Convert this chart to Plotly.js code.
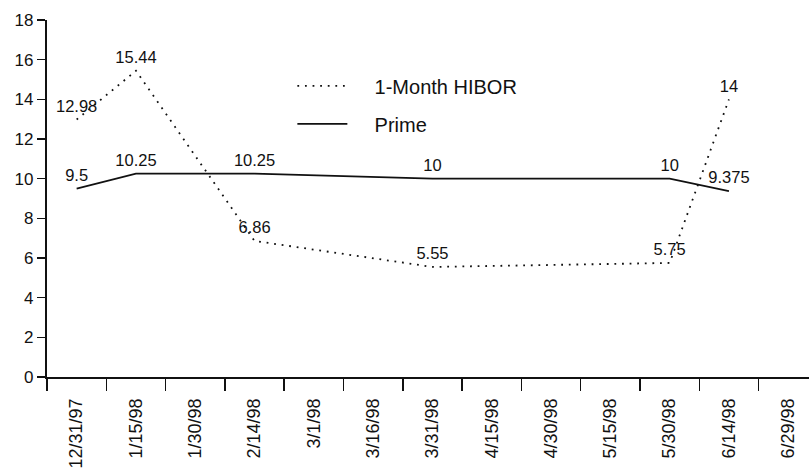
<!DOCTYPE html>
<html>
<head>
<meta charset="utf-8">
<script src="https://cdn.plot.ly/plotly-3.0.1.min.js"></script>
<style>
  html, body { margin: 0; padding: 0; background: #fff; }
  #chart { width: 809px; height: 473px; }
</style>
</head>
<body>
<div id="chart"></div>
<script>
// Fortnightly observation dates (category axis)
const dates = ['12/31/97', '1/15/98', '1/30/98', '2/14/98', '3/1/98', '3/16/98',
               '3/31/98', '4/15/98', '4/30/98', '5/15/98', '5/30/98', '6/14/98', '6/29/98'];

// Rates in percent; null where no quote was recorded
const hibor = [12.98, 15.44, null, 6.86, null, null, 5.55, null, null, null, 5.75, 14, null];
const prime = [9.5, 10.25, null, 10.25, null, null, 10, null, null, null, 10, 9.375, null];

const yTicks = [0, 2, 4, 6, 8, 10, 12, 14, 16, 18];

const labelsFor = vals => vals.map(v => (v === null ? '' : String(v)));

const FONT = 'Liberation Sans, Arial, Helvetica, sans-serif';
const INK = '#111';
const NB = '\u00a0\u00a0\u00a0\u00a0';  // spacing between legend sample and label

const common = {
  x: dates,
  type: 'scatter',
  mode: 'lines+markers+text',
  connectgaps: true,
  textposition: 'top center',
  textfont: { family: FONT, size: 16.5, color: INK },
  marker: { size: 4, color: 'rgba(0,0,0,0)' },
  hoverinfo: 'skip',
  cliponaxis: false
};

const traces = [
  Object.assign({}, common, {
    name: NB + '1-Month HIBOR',
    y: hibor,
    text: labelsFor(hibor),
    legendgroup: 'a',
    line: { color: INK, width: 1.8, dash: '1.8px,5.8px' }
  }),
  Object.assign({}, common, {
    name: NB + 'Prime',
    y: prime,
    text: labelsFor(prime),
    legendgroup: 'b',
    line: { color: INK, width: 1.7, dash: 'solid' }
  })
];

const layout = {
  width: 809,
  height: 473,
  margin: { l: 47, r: 0, t: 20, b: 96 },
  paper_bgcolor: '#fff',
  plot_bgcolor: '#fff',
  font: { family: FONT, size: 17, color: INK },
  showlegend: true,
  legend: {
    x: 0.322, y: 0.87, xanchor: 'left', yanchor: 'top',
    bgcolor: 'rgba(0,0,0,0)',
    font: { family: FONT, size: 20, color: INK },
    traceorder: 'grouped',
    tracegroupgap: 9,
    itemwidth: 50
  },
  xaxis: {
    type: 'category',
    range: [-0.5, 12.35],
    tickson: 'boundaries',
    ticks: 'outside',
    ticklen: 12,
    tickwidth: 1.5,
    tickcolor: INK,
    tickangle: -90,
    ticklabelstandoff: 12,
    showline: true,
    linecolor: INK,
    linewidth: 2.2,
    showgrid: false,
    zeroline: false,
    fixedrange: true,
    tickfont: { family: FONT, size: 18, color: INK }
  },
  yaxis: {
    range: [0, 18],
    tickvals: yTicks,
    ticktext: yTicks.map(String),
    ticks: 'outside',
    ticklen: 8,
    tickwidth: 1.5,
    tickcolor: INK,
    showline: true,
    linecolor: INK,
    linewidth: 2.2,
    showgrid: false,
    zeroline: false,
    fixedrange: true,
    tickfont: { family: FONT, size: 17, color: INK }
  }
};

Plotly.newPlot('chart', traces, layout, { staticPlot: true, displayModeBar: false });
</script>
</body>
</html>
